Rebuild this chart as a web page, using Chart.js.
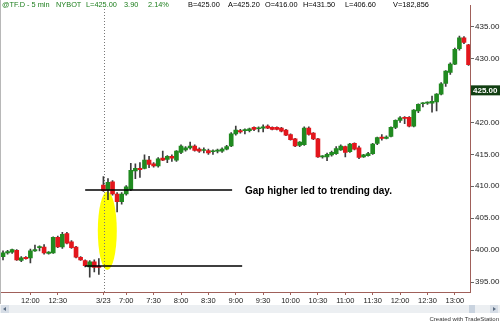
<!DOCTYPE html>
<html>
<head>
<meta charset="utf-8">
<script src="https://cdn.jsdelivr.net/npm/chart.js@4.4.0/dist/chart.umd.min.js"></script>
<style>
  html, body { margin: 0; padding: 0; background: #fff; }
  #wrap { width: 500px; height: 333px; position: relative; }
</style>
</head>
<body>
<div id="wrap"><canvas id="chart"></canvas></div>
<script>
// 5 min bars, previous session (0-21) then 3/23 session (22-102)
const opens = [399.0,399.6,399.7,400.0,398.4,398.9,398.8,399.9,400.4,400.5,399.5,399.6,402.0,400.5,402.6,401.3,400.5,398.9,398.4,397.4,398.2,397.5,
  410.2,409.4,410.7,408.8,407.6,408.8,409.5,412.4,412.8,412.8,414.1,413.5,413.2,414.4,414.2,414.7,414.1,415.3,415.7,416.0,416.3,415.8,415.6,415.6,415.4,415.5,415.5,415.8,
  416.3,418.2,418.7,418.7,418.7,419.2,419.0,419.1,419.4,419.2,419.2,419.1,418.8,418.1,417.4,416.4,416.5,419.1,418.3,417.4,414.6,414.6,414.9,415.1,415.7,416.2,415.4,416.7,
  416.0,414.6,414.8,415.1,416.7,417.7,417.5,417.8,419.2,420.3,420.8,420.8,419.4,421.8,422.9,423.0,423.0,423.2,424.4,426.1,427.8,429.1,431.5,433.2,432.1];
const closes = [399.6,399.8,400.1,398.5,398.8,398.7,399.9,400.1,400.5,399.6,399.7,402.0,400.5,402.5,401.1,400.4,398.9,398.5,397.6,398.2,397.3,397.3,
  409.3,410.6,408.8,407.6,408.8,409.9,412.5,412.8,412.6,414.1,413.4,413.2,414.3,414.1,414.7,414.4,415.5,416.3,416.0,416.3,415.6,415.5,415.65,415.2,415.45,415.5,415.8,416.2,
  418.2,418.8,418.5,418.75,419.0,418.9,419.05,419.3,419.1,418.9,418.9,418.6,418.0,417.3,416.3,416.9,419.1,418.1,417.4,414.6,414.65,415.0,415.3,415.9,416.3,415.3,416.6,415.8,
  414.5,414.9,415.1,416.6,417.6,417.5,417.7,419.2,420.3,420.7,420.6,419.4,421.9,422.8,422.95,423.05,423.3,424.4,426.0,428.0,429.1,431.4,433.2,432.5,429.0];
const highs = [399.9,400.0,400.2,400.1,399.0,399.0,400.2,400.8,400.7,400.9,399.8,402.1,402.2,402.8,402.8,401.5,400.6,399.0,398.5,398.4,398.5,398.7,
  411.5,411.2,410.9,409.0,409.0,410.1,413.6,413.5,413.7,414.9,414.7,413.7,414.5,415.5,414.8,414.9,415.6,416.5,416.2,416.9,416.5,416.0,416.0,415.8,415.7,415.8,416.0,416.4,
  418.4,419.4,418.9,419.0,419.1,419.3,419.3,419.6,419.6,419.3,419.3,419.2,418.9,418.2,417.5,417.0,419.3,419.3,418.4,417.5,414.8,415.2,415.5,416.2,416.5,416.3,416.7,416.8,
  416.3,415.0,415.3,416.7,417.7,418.1,417.9,419.3,420.4,420.9,420.9,420.9,422.0,422.9,423.1,423.2,424.1,424.5,426.2,428.1,429.3,431.6,433.5,433.4,432.2];
const lows = [398.5,399.4,399.5,398.4,398.2,398.6,398.0,399.8,399.9,399.4,399.4,399.5,400.4,400.3,401.0,400.3,398.8,398.4,397.4,395.8,396.6,396.2,
  409.2,407.9,408.6,406.0,407.2,408.6,409.3,411.2,411.4,412.7,412.9,413.0,413.0,414.0,413.7,413.9,413.9,415.1,415.5,415.8,415.5,415.3,415.2,415.0,415.0,415.2,415.3,415.7,
  416.2,418.0,418.3,418.2,418.5,418.7,418.5,418.5,419.0,418.8,418.8,418.5,417.9,417.2,416.2,416.2,416.4,418.0,417.3,414.5,414.4,414.0,414.7,415.0,415.6,414.6,415.3,415.7,
  414.3,414.5,414.7,415.0,416.5,417.2,417.4,417.7,419.0,420.0,419.8,419.3,419.3,421.5,422.4,422.8,421.6,421.8,424.3,425.6,427.5,429.0,431.3,432.3,428.9];

// time axis labels, at bar index
const tickIdx = [6, 12, 22, 27, 33, 39, 45, 51, 57, 63, 69, 75, 81, 87, 93, 99];
const tickText = ['12:00','12:30','3/23','7:00','7:30','8:00','8:30','9:00','9:30','10:00','10:30','11:00','11:30','12:00','12:30','13:00'];
const priceTicks = [395, 400, 405, 410, 415, 420, 425, 430, 435];
const lastPrice = 425.00;
const sessionStart = 22;
const gapHigh = 409.4, gapLow = 397.6;
const note = 'Gap higher led to trending day.';

const green = '#208a20', red = '#e3161c', wickCol = '#3c3c3c', axisCol = '#a0605a';
const font = 'Liberation Sans, Arial, sans-serif';

const bodies = opens.map((o, i) => ({ x: i, y: [o, closes[i]] }));
const wicks = lows.map((l, i) => ({ x: i, y: [l, highs[i]] }));
const bodyColors = opens.map((o, i) => closes[i] >= o ? green : red);

const decor = {
  id: 'decor',
  beforeDatasetsDraw(chart) {
    const { ctx, scales: { x, y }, chartArea } = chart;
    ctx.save();
    // yellow highlight over the gap
    const cx = x.getPixelForValue(sessionStart + 0.85);
    const top = y.getPixelForValue(409.2), bot = y.getPixelForValue(396.9);
    ctx.fillStyle = '#ffff00';
    ctx.beginPath();
    ctx.ellipse(cx, (top + bot) / 2, 9.5, (bot - top) / 2, 0, 0, Math.PI * 2);
    ctx.fill();
    // session break
    const sx = Math.round(x.getPixelForValue(sessionStart + 0.1)) + 0.5;
    ctx.strokeStyle = '#777';
    ctx.lineWidth = 1;
    ctx.setLineDash([1, 2]);
    ctx.beginPath();
    ctx.moveTo(sx, 9);
    ctx.lineTo(sx, chartArea.bottom);
    ctx.stroke();
    ctx.restore();
  },
  afterDatasetsDraw(chart) {
    const { ctx, scales: { x, y } } = chart;
    ctx.save();
    ctx.strokeStyle = '#000';
    ctx.lineWidth = 1.5;
    const hy = Math.round(y.getPixelForValue(gapHigh));
    const ly = Math.round(y.getPixelForValue(gapLow));
    ctx.beginPath();
    ctx.moveTo(x.getPixelForValue(18), hy);
    ctx.lineTo(x.getPixelForValue(50.2), hy);
    ctx.moveTo(x.getPixelForValue(18), ly);
    ctx.lineTo(x.getPixelForValue(52.4), ly);
    ctx.stroke();
    ctx.fillStyle = '#000';
    ctx.font = 'bold 10px ' + font;
    ctx.textBaseline = 'middle';
    ctx.fillText(note, x.getPixelForValue(53), hy + 1);
    ctx.restore();
  },
  afterDraw(chart) {
    const { ctx, scales: { y }, chartArea } = chart;
    ctx.save();
    // left border
    ctx.fillStyle = '#b8b8b8';
    ctx.fillRect(0, 0, 1, 304);
    // header
    ctx.font = '8px ' + font;
    ctx.textBaseline = 'middle';
    const head = [
      ['@TF.D - 5 min', 2, '#1b7d1b'], ['NYBOT', 56, '#1b7d1b'], ['L=425.00', 86, '#1b7d1b'],
      ['3.90', 124, '#1b7d1b'], ['2.14%', 148, '#1b7d1b'], ['B=425.00', 188, '#000'],
      ['A=425.20', 228, '#000'], ['O=416.00', 265, '#000'], ['H=431.50', 303, '#000'],
      ['L=406.60', 345, '#000'], ['V=182,856', 393, '#000']
    ];
    head.forEach(([t, hx, c]) => {
      ctx.save();
      ctx.translate(hx, 5);
      ctx.scale(0.92, 1);
      ctx.fillStyle = c;
      ctx.fillText(t, 0, 0);
      ctx.restore();
    });
    // last price box
    const py = y.getPixelForValue(lastPrice);
    ctx.fillStyle = '#fff';
    ctx.fillRect(chartArea.right + 1, py - 6, 30, 12);
    ctx.fillStyle = '#123f12';
    ctx.fillRect(chartArea.right + 1, py - 5, 29, 10);
    ctx.fillStyle = '#fff';
    ctx.font = 'bold 8px ' + font;
    ctx.fillText(lastPrice.toFixed(2), chartArea.right + 3, py + 0.5);
    // scroll bar
    ctx.fillStyle = '#eceff2';
    ctx.fillRect(0, 305, 500, 8);
    ctx.fillStyle = '#d6dde6';
    ctx.fillRect(1, 305, 8, 8);
    ctx.fillRect(490, 305, 8, 8);
    ctx.fillStyle = '#c9d3df';
    ctx.fillRect(469, 305, 6, 8);
    ctx.fillStyle = '#5a6b80';
    ctx.beginPath();
    ctx.moveTo(3, 309); ctx.lineTo(6, 307); ctx.lineTo(6, 311); ctx.fill();
    ctx.beginPath();
    ctx.moveTo(496, 309); ctx.lineTo(493, 307); ctx.lineTo(493, 311); ctx.fill();
    // credit
    ctx.fillStyle = '#333';
    ctx.font = '6px ' + font;
    ctx.textAlign = 'right';
    ctx.fillText('Created with TradeStation', 499, 319);
    ctx.restore();
  }
};

new Chart(document.getElementById('chart'), {
  type: 'bar',
  data: {
    datasets: [
      {
        data: bodies,
        backgroundColor: bodyColors,
        borderWidth: 0,
        barThickness: 4,
        minBarLength: 1,
        grouped: false,
        order: 1
      },
      {
        data: wicks,
        backgroundColor: wickCol,
        borderWidth: 0,
        barThickness: 1,
        grouped: false,
        order: 2
      }
    ]
  },
  options: {
    responsive: true,
    maintainAspectRatio: false,
    animation: false,
    devicePixelRatio: 1,
    layout: { padding: 0 },
    plugins: { legend: { display: false }, tooltip: { enabled: false } },
    scales: {
      x: {
        type: 'linear',
        min: -0.66,
        max: 102.32,
        offset: false,
        grid: { drawOnChartArea: false, offset: false, tickLength: 3, color: axisCol },
        border: { color: axisCol },
        ticks: {
          autoSkip: false,
          maxRotation: 0,
          padding: 1,
          color: '#222',
          font: { family: font, size: 7.5 },
          callback: v => tickText[tickIdx.indexOf(v)]
        },
        afterBuildTicks: s => { s.ticks = tickIdx.map(v => ({ value: v })); },
        afterFit: s => { s.height = 41; }
      },
      y: {
        position: 'right',
        min: 393.47,
        max: 438.22,
        grid: { drawOnChartArea: false, tickLength: 4, color: '#666' },
        border: { color: axisCol },
        ticks: {
          padding: 1,
          color: '#222',
          font: { family: font, size: 8 },
          callback: v => v.toFixed(2)
        },
        afterBuildTicks: s => { s.ticks = priceTicks.map(v => ({ value: v })); },
        afterFit: s => { s.width = 30; }
      }
    }
  },
  plugins: [decor]
});
</script>
</body>
</html>
